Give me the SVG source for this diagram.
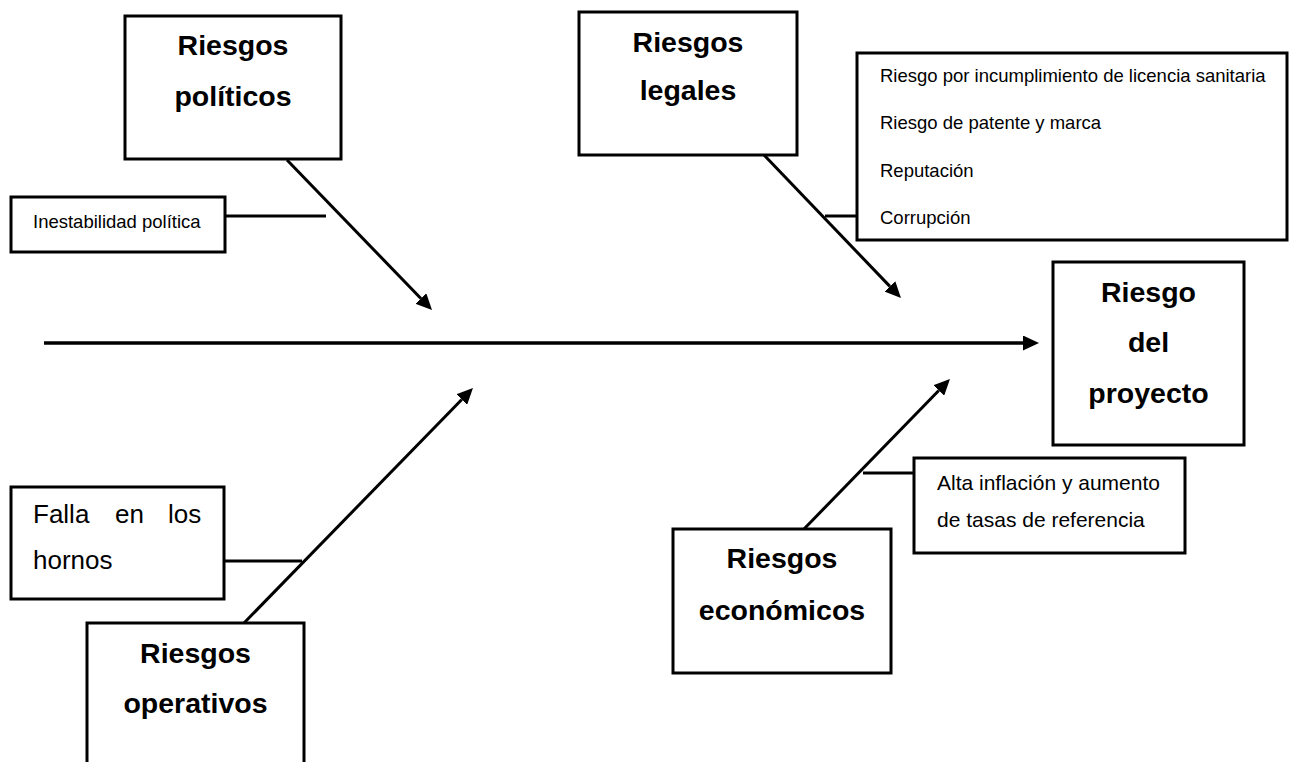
<svg xmlns="http://www.w3.org/2000/svg" width="1296" height="762" viewBox="0 0 1296 762">
  <style>
    .box { fill: #ffffff; stroke: #000000; stroke-width: 3; }
    .head { font-family: "Liberation Sans", Arial, sans-serif; font-weight: bold; font-size: 28.5px; fill: #000; text-anchor: middle; }
    .item { font-family: "Liberation Sans", Arial, sans-serif; font-size: 18.5px; fill: #000; }
    .item21 { font-family: "Liberation Sans", Arial, sans-serif; font-size: 21px; fill: #000; }
    .item25 { font-family: "Liberation Sans", Arial, sans-serif; font-size: 26px; fill: #000; }
    .conn { stroke: #000; stroke-width: 3; fill: none; }
    .spine { stroke: #000; stroke-width: 3.5; fill: none; }
  </style>
  <defs>
    <marker id="arrow" markerUnits="userSpaceOnUse" markerWidth="16" markerHeight="15" viewBox="0 0 16 15" refX="0" refY="7.5" orient="auto">
      <path d="M0,0 L16,7.5 L0,15 z" fill="#000"/>
    </marker>
  </defs>
  <rect width="1296" height="762" fill="#ffffff"/>

  <g id="connectors">
    <line class="spine" x1="44" y1="343" x2="1023" y2="343" marker-end="url(#arrow)"/>
    <line class="conn" x1="287" y1="160" x2="420.9" y2="298.5" marker-end="url(#arrow)"/>
    <line class="conn" x1="764" y1="155" x2="889.9" y2="286.4" marker-end="url(#arrow)"/>
    <line class="conn" x1="804" y1="529" x2="938.8" y2="390.5" marker-end="url(#arrow)"/>
    <line class="conn" x1="244" y1="623" x2="461.8" y2="399.5" marker-end="url(#arrow)"/>
    <line class="conn" x1="225" y1="216" x2="326" y2="216"/>
    <line class="conn" x1="825" y1="216" x2="857" y2="216"/>
    <line class="conn" x1="863" y1="473" x2="914" y2="473"/>
    <line class="conn" x1="224" y1="561" x2="302" y2="561"/>
  </g>

  <g id="riesgos-politicos">
    <rect class="box" x="125" y="16" width="216" height="143"/>
    <text class="head" x="233" y="55">Riesgos</text>
    <text class="head" x="233" y="106">políticos</text>
  </g>

  <g id="inestabilidad-politica">
    <rect class="box" x="11" y="197" width="214" height="55"/>
    <text class="item" x="33" y="228">Inestabilidad política</text>
  </g>

  <g id="riesgos-legales">
    <rect class="box" x="579" y="12" width="218" height="143"/>
    <text class="head" x="688" y="52">Riesgos</text>
    <text class="head" x="688" y="100">legales</text>
  </g>

  <g id="riesgos-legales-items">
    <rect class="box" x="857" y="53" width="430" height="187"/>
    <text class="item" x="880" y="82">Riesgo por incumplimiento de licencia sanitaria</text>
    <text class="item" x="880" y="129">Riesgo de patente y marca</text>
    <text class="item" x="880" y="177">Reputación</text>
    <text class="item" x="880" y="224">Corrupción</text>
  </g>

  <g id="riesgo-del-proyecto">
    <rect class="box" x="1053" y="262" width="191" height="183"/>
    <text class="head" x="1148.5" y="302">Riesgo</text>
    <text class="head" x="1148.5" y="352">del</text>
    <text class="head" x="1148.5" y="403">proyecto</text>
  </g>

  <g id="alta-inflacion">
    <rect class="box" x="914" y="458" width="271" height="95"/>
    <text class="item21" x="937" y="490">Alta inflación y aumento</text>
    <text class="item21" x="937" y="527">de tasas de referencia</text>
  </g>

  <g id="riesgos-economicos">
    <rect class="box" x="673" y="529" width="218" height="144"/>
    <text class="head" x="782" y="568">Riesgos</text>
    <text class="head" x="782" y="620">económicos</text>
  </g>

  <g id="falla-hornos">
    <rect class="box" x="11" y="487" width="213" height="112"/>
    <text class="item25" y="523"><tspan x="33">Falla</tspan><tspan x="115">en</tspan><tspan x="168">los</tspan></text>
    <text class="item25" x="33" y="569">hornos</text>
  </g>

  <g id="riesgos-operativos">
    <rect class="box" x="87" y="623" width="217" height="160"/>
    <text class="head" x="195.5" y="663">Riesgos</text>
    <text class="head" x="195.5" y="713">operativos</text>
  </g>
</svg>
